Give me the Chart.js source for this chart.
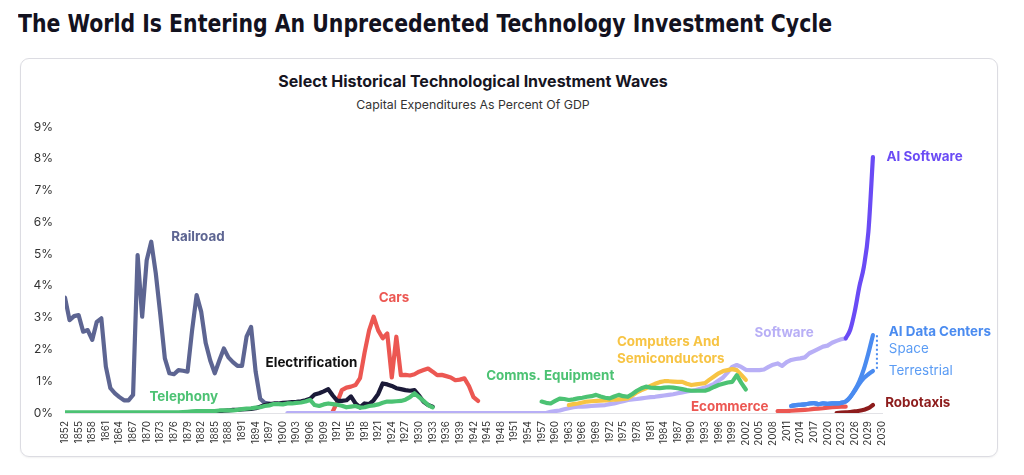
<!DOCTYPE html>
<html>
<head>
<meta charset="utf-8">
<script src="https://cdn.jsdelivr.net/npm/chart.js@4.4.1/dist/chart.umd.min.js"></script>
<style>
  html, body { margin: 0; padding: 0; background: #ffffff; width: 1024px; height: 475px; overflow: hidden; }
  #mainTitle { position: absolute; left: 18px; top: 8px; line-height: 32px; font-family: "DejaVu Sans Condensed", "Liberation Sans Narrow", "Roboto Condensed", "DejaVu Sans", sans-serif; font-weight: 700; font-size: 25px; color: #13121f; white-space: nowrap; transform-origin: 0 0; }
  #card { position: absolute; left: 20px; top: 58px; width: 978px; height: 399px; border: 1px solid #dcdce2; border-radius: 9px; box-sizing: border-box; box-shadow: 0 1px 2px rgba(0,0,0,0.06); }
  #chartTitle { position: absolute; left: 0; width: 946px; top: 71px; line-height: 20px; text-align: center; font-family: Inter, "Open Sans", sans-serif; font-weight: 700; font-size: 16px; color: #16151f; }
  #chartSub { position: absolute; left: 0; width: 946px; top: 97px; line-height: 16px; text-align: center; font-family: Inter, "Open Sans", sans-serif; font-weight: 400; font-size: 12.3px; color: #333; }
  canvas { position: absolute; left: 0; top: 0; }
</style>
</head>
<body>
<div id="mainTitle">The World Is Entering An Unprecedented Technology Investment Cycle</div>
<div id="card"></div>
<div id="chartTitle">Select Historical Technological Investment Waves</div>
<div id="chartSub">Capital Expenditures As Percent Of GDP</div>
<canvas id="c" width="1024" height="475"></canvas>
<script>
// ---------- DATA (capex as % of GDP, one value per year from the start year) ----------
const xTickLabels = ['1852','1855','1858','1861','1864','1867','1870','1873','1876','1879',
  '1882','1885','1888','1891','1894','1897','1900','1903','1906','1909',
  '1912','1915','1918','1921','1924','1927','1930','1933','1936','1939',
  '1942','1945','1948','1951','1954','1957','1960','1963','1966','1969',
  '1972','1975','1978','1981','1984','1987','1990','1993','1996','1999',
  '2002','2005','2008','2011','2014','2017','2020','2023','2026','2029','2030'];
const yTickValues = [0,1,2,3,4,5,6,7,8,9];

const railroadStart = 1852;
const railroad = [
  3.63,2.92,3.05,3.08,2.56,2.61,2.30,2.87,2.98,1.46,
  0.78,0.62,0.50,0.40,0.40,0.57,4.97,3.03,4.81,5.39,
  4.40,3.10,1.72,1.25,1.22,1.35,1.33,1.30,2.60,3.71,
  3.19,2.20,1.65,1.25,1.65,2.03,1.75,1.60,1.48,1.48,
  2.40,2.71,1.30,0.45,0.32,0.30];

const telephonyStart = 1852;
const telephony = [
  0.02,0.02,0.02,0.02,0.02,0.02,0.02,0.02,0.02,0.02,
  0.02,0.02,0.02,0.02,0.02,0.02,0.02,0.02,0.02,0.02,
  0.02,0.02,0.02,0.02,0.02,0.02,0.03,0.04,0.05,0.06,
  0.06,0.06,0.06,0.06,0.08,0.08,0.08,0.08,0.10,0.12,
  0.14,0.15,0.17,0.18,0.22,0.24,0.28,0.28,0.27,0.30,
  0.30,0.32,0.33,0.36,0.41,0.25,0.22,0.27,0.30,0.28,
  0.26,0.23,0.18,0.20,0.22,0.17,0.18,0.22,0.24,0.27,
  0.32,0.36,0.36,0.37,0.38,0.42,0.50,0.62,0.50,0.38,
  0.25,0.18];

const electrificationStart = 1885;
const electrification = [
  0.05,0.06,0.07,0.08,0.10,0.10,0.11,0.12,0.13,0.15,
  0.20,0.25,0.28,0.30,0.30,0.32,0.33,0.34,0.35,0.37,
  0.40,0.45,0.58,0.62,0.68,0.75,0.55,0.38,0.38,0.40,
  0.52,0.30,0.18,0.30,0.28,0.40,0.60,0.93,0.90,0.85,
  0.78,0.75,0.72,0.70,0.72,0.55,0.35,0.25,0.20];

const carsStart = 1911;
const cars = [
  0.05,0.35,0.72,0.80,0.83,0.88,1.10,1.90,2.60,3.03,
  2.60,2.35,2.50,1.12,2.40,1.19,1.20,1.18,1.22,1.30,
  1.35,1.40,1.30,1.19,1.20,1.16,1.12,1.03,1.05,1.09,
  0.85,0.50,0.38];

const softwareStart = 1901;
const software = [
  0,0,0,0,0,0,0,0,0,0,
  0,0,0,0,0,0,0,0,0,0,
  0,0,0,0,0,0,0,0,0,0,
  0,0,0,0,0,0,0,0,0,0,
  0,0,0,0,0,0,0,0,0,0,
  0,0,0,0,0,0,0,0,0.04,0.06,
  0.08,0.12,0.15,0.18,0.20,0.20,0.21,0.22,0.23,0.24,
  0.25,0.28,0.30,0.34,0.37,0.41,0.43,0.44,0.46,0.48,
  0.50,0.51,0.53,0.55,0.57,0.59,0.62,0.65,0.68,0.70,
  0.72,0.76,0.80,0.85,0.92,1.02,1.12,1.28,1.45,1.51,
  1.45,1.36,1.35,1.35,1.35,1.37,1.45,1.52,1.56,1.48,
  1.60,1.67,1.70,1.72,1.75,1.88,1.95,2.02,2.09,2.12,
  2.21,2.27,2.32,2.35];

const commsStart = 1957;
const comms = [
  0.36,0.32,0.30,0.38,0.45,0.44,0.41,0.43,0.46,0.48,
  0.51,0.53,0.57,0.52,0.48,0.46,0.52,0.57,0.53,0.51,
  0.60,0.70,0.78,0.83,0.80,0.79,0.78,0.80,0.81,0.80,
  0.78,0.75,0.72,0.70,0.70,0.70,0.70,0.75,0.82,0.88,
  0.92,0.96,0.98,1.19,0.95,0.74];

const computersStart = 1963;
const computers = [
  0.25,0.28,0.30,0.33,0.36,0.37,0.38,0.39,0.40,0.41,
  0.42,0.43,0.44,0.46,0.55,0.65,0.72,0.78,0.85,0.92,
  0.97,1.00,1.00,0.99,0.98,0.98,0.92,0.88,0.90,0.92,
  0.94,1.05,1.15,1.25,1.32,1.35,1.38,1.35,1.20,1.04];

const ecommerceStart = 2009;
const ecommerce = [0.06,0.06,0.06,0.07,0.08,0.09,0.10,0.11,0.13,0.14,0.15,0.17,0.18,0.19,0.20,0.20];

const aiSoftwareStart = 2024;
const aiSoftware = [2.35,2.62,3.20,3.97,4.60,5.70,8.05];

const aiDcStart = 2012;
const aiDcSpace       = [0.22,0.25,0.26,0.27,0.30,0.31,0.28,0.30,0.29,0.30,0.30,0.32,0.36,0.50,0.72,1.00,1.38,1.88,2.45];
const aiDcTerrestrial = [0.22,0.25,0.26,0.27,0.30,0.31,0.28,0.30,0.29,0.30,0.30,0.32,0.36,0.50,0.70,0.92,1.10,1.22,1.32];

const robotaxisStart = 2022;
const robotaxis = [0.00,0.01,0.02,0.03,0.05,0.07,0.10,0.15,0.25];

// ---------- STYLE ----------
const C = {
  railroad: '#5d6592', green: '#4cc273', navy: '#1b1a38', red: '#ec5752',
  yellow: '#f7c444', lavender: '#b8aff6', purple: '#6a4bf5', blue: '#4a8bf0',
  blueLight: '#5b9cf4', robo: '#8d1c1c'
};
const FONT = 'Inter, "Open Sans", sans-serif';

const toPoints = (start, vals) => vals.map((v, i) => ({ x: start + i, y: v }));

function ds(label, start, vals, color, order, extra) {
  return Object.assign({
    label, data: toPoints(start, vals), borderColor: color, backgroundColor: color,
    borderWidth: 4.2, pointRadius: 0, tension: 0, fill: false, order,
    borderJoinStyle: 'round', borderCapStyle: 'round'
  }, extra || {});
}

const labelDefs = [
  { text: 'Railroad', year: 1875.4, value: 5.54, color: C.railroad, bold: true },
  { text: 'Telephony', year: 1870.6, value: 0.51, color: C.green, bold: true },
  { text: 'Electrification', year: 1896.2, value: 1.58, color: '#111', bold: true },
  { text: 'Cars', year: 1921.1, value: 3.61, color: C.red, bold: true },
  { text: 'Comms. Equipment', year: 1944.8, value: 1.16, color: C.green, bold: true },
  { text: 'Computers And', year: 1973.6, value: 2.22, color: C.yellow, bold: true },
  { text: 'Semiconductors', year: 1973.6, value: 1.70, color: C.yellow, bold: true },
  { text: 'Ecommerce', year: 1989.9, value: 0.20, color: C.red, bold: true },
  { text: 'Software', year: 2003.9, value: 2.51, color: C.lavender, bold: true },
  { text: 'AI Software', year: 2033.0, value: 8.06, color: C.purple, bold: true },
  { text: 'AI Data Centers', year: 2033.5, value: 2.54, color: C.blue, bold: true },
  { text: 'Space', year: 2033.5, value: 2.01, color: C.blueLight, bold: false },
  { text: 'Terrestrial', year: 2033.5, value: 1.32, color: C.blueLight, bold: false },
  { text: 'Robotaxis', year: 2032.7, value: 0.31, color: C.robo, bold: true }
];

const annotate = {
  id: 'annotate',
  afterDatasetsDraw(chart) {
    const { ctx, scales: { x, y } } = chart;
    ctx.save();
    // dotted connector between the two AI data center end points
    const lastYear = aiDcStart + aiDcSpace.length - 1;
    const px = x.getPixelForValue(lastYear) + 4;
    ctx.strokeStyle = C.blue; ctx.lineWidth = 2; ctx.setLineDash([2, 2.5]);
    ctx.beginPath();
    ctx.moveTo(px, y.getPixelForValue(aiDcSpace[aiDcSpace.length - 1]));
    ctx.lineTo(px, y.getPixelForValue(aiDcTerrestrial[aiDcTerrestrial.length - 1]));
    ctx.stroke();
    ctx.setLineDash([]);
    ctx.textAlign = 'left'; ctx.textBaseline = 'middle';
    labelDefs.forEach(l => {
      ctx.font = (l.bold ? '700 ' : '400 ') + '13.4px ' + FONT;
      ctx.fillStyle = l.color;
      ctx.fillText(l.text, x.getPixelForValue(l.year), y.getPixelForValue(l.value));
    });
    ctx.restore();
  }
};

new Chart(document.getElementById('c'), {
  type: 'line',
  data: {
    datasets: [
      ds('AI Software', aiSoftwareStart, aiSoftware, C.purple, 1, { cubicInterpolationMode: 'monotone' }),
      ds('AI Data Centers Space', aiDcStart, aiDcSpace, C.blue, 2, { cubicInterpolationMode: 'monotone' }),
      ds('AI Data Centers Terrestrial', aiDcStart, aiDcTerrestrial, C.blue, 3, { cubicInterpolationMode: 'monotone' }),
      ds('Robotaxis', robotaxisStart, robotaxis, C.robo, 4, { cubicInterpolationMode: 'monotone' }),
      ds('Ecommerce', ecommerceStart, ecommerce, C.red, 5),
      ds('Comms. Equipment', commsStart, comms, C.green, 6),
      ds('Computers And Semiconductors', computersStart, computers, C.yellow, 7),
      ds('Software', softwareStart, software, C.lavender, 8),
      ds('Telephony', telephonyStart, telephony, C.green, 9),
      ds('Electrification', electrificationStart, electrification, C.navy, 10),
      ds('Cars', carsStart, cars, C.red, 11),
      ds('Railroad', railroadStart, railroad, C.railroad, 12)
    ]
  },
  options: {
    responsive: false,
    animation: false,
    devicePixelRatio: 1,
    layout: { padding: { top: 127, right: 142, bottom: 0, left: 0 } },
    plugins: { legend: { display: false }, tooltip: { enabled: false }, title: { display: false } },
    scales: {
      x: {
        type: 'linear', min: 1852, max: 1852 + 3 * (xTickLabels.length - 1),
        grid: { display: false, drawTicks: false },
        border: { display: true, color: '#e2e2e6', width: 1 },
        afterBuildTicks: s => { s.ticks = xTickLabels.map((_, i) => ({ value: 1852 + 3 * i })); },
        afterFit: s => { s.height = 62; },
        ticks: {
          autoSkip: false, maxRotation: 90, minRotation: 90, padding: 8,
          color: '#333', font: { family: FONT, size: 10 },
          callback: (v, i) => xTickLabels[i]
        }
      },
      y: {
        min: 0, max: 9,
        grid: { display: false, drawTicks: false },
        border: { display: false },
        afterBuildTicks: s => { s.ticks = yTickValues.map(v => ({ value: v })); },
        afterFit: s => { s.width = 65; },
        ticks: { padding: 12, color: '#333', font: { family: FONT, size: 12 }, callback: v => v + '%' }
      }
    }
  },
  plugins: [annotate]
});

// fit the headline to the reference width
const t = document.getElementById('mainTitle');
t.style.transform = 'scaleX(' + (814 / t.scrollWidth) + ')';
</script>
</body>
</html>
